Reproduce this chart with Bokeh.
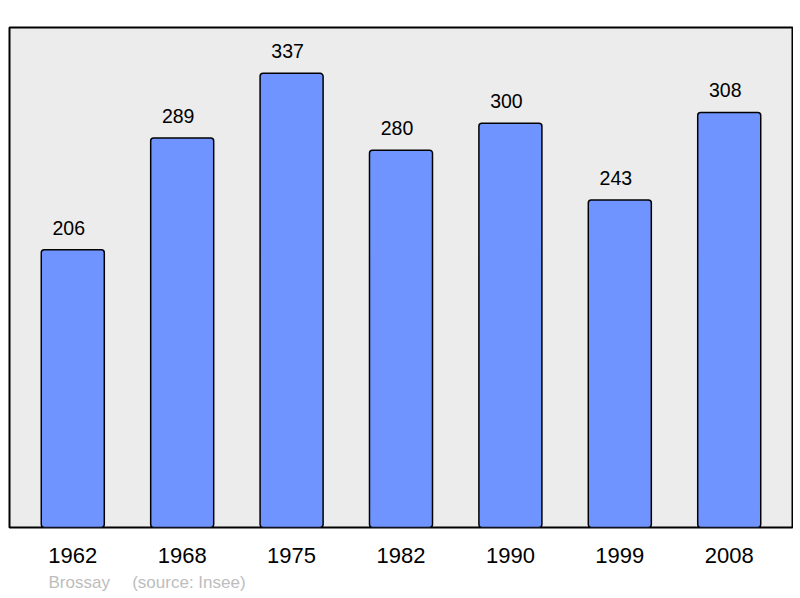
from bokeh.plotting import figure
from bokeh.models import ColumnDataSource, Title, FactorRange
from bokeh.core.properties import value
from bokeh.embed import file_html
from bokeh.resources import INLINE

years = ["1962", "1968", "1975", "1982", "1990", "1999", "2008"]
population = [206, 289, 337, 280, 300, 243, 308]
labels = [str(v) for v in population]
place = "Brossay"
source_text = "(source: Insee)"

src = ColumnDataSource(dict(x=years, top=population, label=labels))

p = figure(x_range=FactorRange(*years, range_padding=0.0224, range_padding_units="percent"),
           y_range=(0, 371), width=793, height=596,
           output_backend="svg", toolbar_location=None,
           min_border_left=9, min_border_right=1, min_border_top=27, min_border_bottom=68)

p.background_fill_color = "#ececec"
p.border_fill_color = "white"
p.outline_line_color = "black"
p.outline_line_width = 2
p.grid.visible = False
p.yaxis.visible = False

p.vbar(x="x", top="top", bottom=0, width=0.576, source=src,
       fill_color="#7094ff", line_color="black", line_width=1.5, border_radius=3)

p.text(x="x", y="top", text="label", source=src, y_offset=-22, x_offset=-4,
       text_align="center", text_baseline="alphabetic",
       text_font=value("Liberation Sans"), text_font_size="19.5px", text_color="black")

ax = p.xaxis[0]
ax.axis_line_color = None
ax.major_tick_line_color = None
ax.minor_tick_line_color = None
ax.major_tick_out = 0
ax.major_tick_in = 0
ax.major_label_standoff = 20
ax.major_label_text_font = "Liberation Sans"
ax.major_label_text_font_size = "22px"
ax.major_label_text_color = "black"

footer = Title(text=place + "\u00a0\u00a0\u00a0\u00a0\u2009" + source_text, align="left", offset=39,
               text_font="Liberation Sans", text_font_size="17px", text_font_style="normal",
               text_color="#bdbdbd", standoff=10)
p.add_layout(footer, "below")

open("out.html", "w").write(file_html(p, INLINE))
